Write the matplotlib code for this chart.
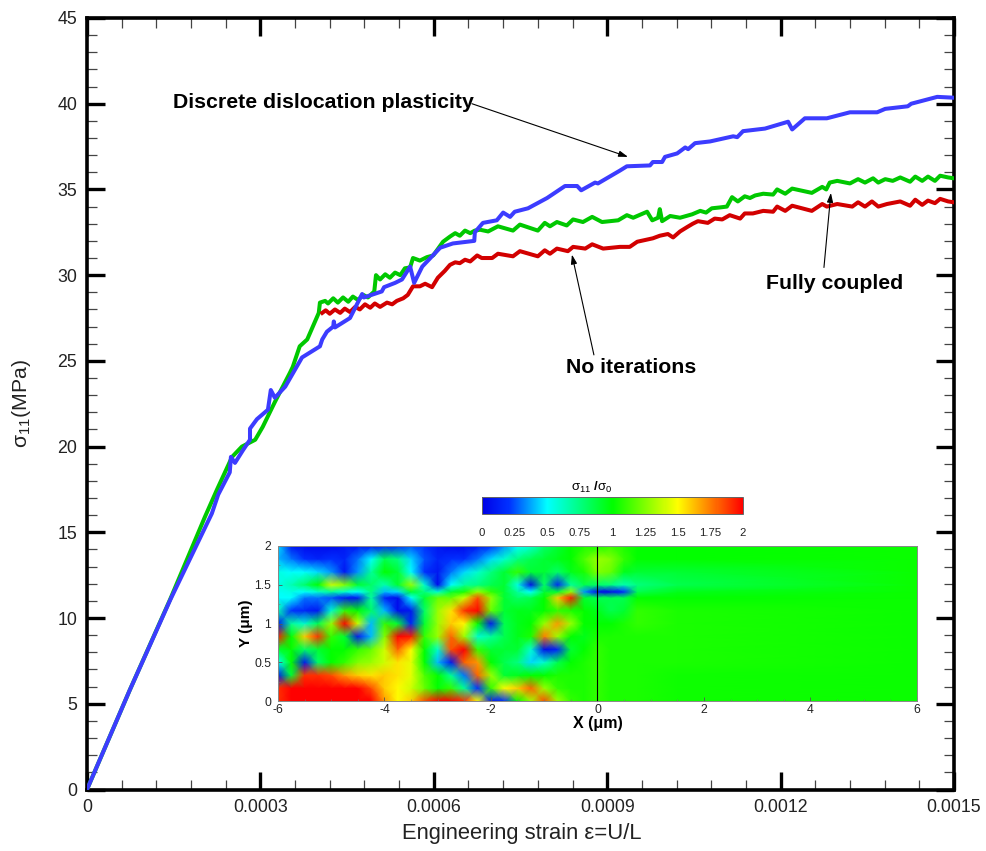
import numpy as np
import matplotlib
matplotlib.use('Agg')
import matplotlib.pyplot as plt
from matplotlib.colors import LinearSegmentedColormap
from matplotlib.cm import ScalarMappable
from matplotlib.colors import Normalize
from matplotlib.ticker import MultipleLocator

plt.rcParams['font.family'] = ['Liberation Sans', 'DejaVu Sans']
plt.rcParams['mathtext.fontset'] = 'custom'
plt.rcParams['mathtext.rm'] = 'Liberation Sans'
plt.rcParams['mathtext.it'] = 'Liberation Sans'
plt.rcParams['mathtext.bf'] = 'Liberation Sans:bold'

blue_x = [0,.74,1.44,2.16,2.27,2.47,2.49,2.56,2.70,2.82,2.82,2.94,3.13,3.18,3.25,3.43,3.72,4.03,4.07,4.15,4.26,4.27,4.29,4.55,4.76,4.79,5.10,5.14,5.33,5.45,5.59,5.66,5.80,6.11,6.33,6.70,6.71,6.85,7.09,7.20,7.32,7.40,7.63,7.96,8.27,8.48,8.55,8.79,8.84,9.22,9.34,9.74,9.79,9.95,10.0,10.21,10.35,10.4,10.52,10.78,11.18,11.25,11.35,11.73,12.13,12.2,12.42,12.8,13.2,13.67,13.81,14.2,14.26,14.71,15]
blue_y = [0,5.8,11.06,16.1,17.2,18.5,19.4,19.05,19.8,20.4,21.05,21.6,22.15,23.3,22.85,23.5,25.2,25.85,26.25,26.7,27.0,27.3,26.95,27.5,28.9,28.7,29.05,29.3,29.55,29.75,30.5,29.55,30.5,31.6,31.85,32.0,32.5,33.05,33.2,33.65,33.4,33.7,33.9,34.5,35.2,35.2,34.95,35.4,35.35,36.1,36.35,36.4,36.6,36.6,36.9,37.1,37.45,37.35,37.7,37.8,38.1,38.05,38.4,38.55,38.95,38.5,39.15,39.15,39.5,39.5,39.7,39.85,40.0,40.4,40.35]

green_x = [0,.74,1.44,2.04,2.25,2.51,2.68,2.91,3.04,3.25,3.51,3.56,3.68,3.81,4.01,4.03,4.12,4.17,4.26,4.34,4.43,4.52,4.60,4.69,4.78,4.86,4.97,5.0,5.07,5.16,5.24,5.33,5.42,5.50,5.59,5.64,5.76,5.88,5.99,6.16,6.28,6.37,6.45,6.54,6.63,6.71,6.8,6.94,7.11,7.37,7.49,7.8,7.92,8.01,8.13,8.3,8.41,8.58,8.74,8.91,9.19,9.34,9.45,9.69,9.78,9.88,9.91,9.95,10.09,10.26,10.47,10.61,10.71,10.81,10.95,11.07,11.16,11.26,11.38,11.47,11.56,11.7,11.87,11.94,12.08,12.2,12.54,12.72,12.79,12.85,12.98,13.2,13.34,13.46,13.6,13.69,13.81,13.94,14.07,14.24,14.33,14.45,14.55,14.67,14.76,14.9,15]
green_y = [0,5.8,11.1,15.9,17.5,19.4,20.0,20.4,21.15,22.6,24.3,24.65,25.85,26.25,27.8,28.4,28.5,28.35,28.65,28.4,28.7,28.45,28.75,28.55,28.85,28.7,29.05,30.0,29.75,30.05,29.85,30.15,30.0,30.4,30.45,31.0,30.85,31.05,31.15,31.95,32.25,32.45,32.3,32.6,32.45,32.6,32.65,32.55,32.85,32.6,32.95,32.6,33.05,32.85,33.1,32.9,33.25,33.1,33.4,33.1,33.2,33.5,33.35,33.7,33.2,33.35,33.85,33.15,33.45,33.35,33.55,33.75,33.65,33.9,33.95,34.0,34.55,34.3,34.6,34.5,34.65,34.75,34.7,35.0,34.75,35.05,34.8,35.15,35.0,35.4,35.5,35.35,35.6,35.4,35.65,35.4,35.6,35.5,35.7,35.45,35.75,35.5,35.75,35.5,35.8,35.7,35.65]

red_x = [4.07,4.13,4.2,4.29,4.38,4.46,4.55,4.64,4.72,4.81,4.9,4.98,5.07,5.19,5.28,5.36,5.47,5.55,5.64,5.76,5.85,5.97,6.07,6.19,6.28,6.37,6.45,6.54,6.63,6.75,6.83,7.01,7.11,7.37,7.49,7.8,7.92,8.01,8.13,8.32,8.41,8.62,8.74,8.93,9.22,9.39,9.52,9.79,9.91,10.05,10.14,10.26,10.38,10.48,10.57,10.74,10.86,10.99,11.12,11.3,11.38,11.52,11.7,11.87,11.94,12.08,12.2,12.54,12.72,12.8,12.98,13.24,13.34,13.46,13.58,13.69,13.84,14.07,14.24,14.33,14.45,14.55,14.67,14.76,14.9,15]
red_y = [27.8,27.95,27.75,28.0,27.8,28.05,27.85,28.15,28.0,28.3,28.1,28.35,28.15,28.4,28.3,28.5,28.65,28.85,29.35,29.35,29.5,29.3,29.85,30.25,30.6,30.75,30.7,30.9,30.8,31.15,31.0,31.0,31.25,31.1,31.4,31.1,31.45,31.25,31.55,31.4,31.65,31.55,31.8,31.55,31.65,31.65,31.95,32.15,32.3,32.4,32.2,32.55,32.8,33.0,33.15,33.05,33.3,33.25,33.5,33.3,33.6,33.6,33.75,33.7,34.0,33.75,34.05,33.75,34.15,34.0,34.15,34.0,34.25,34.0,34.3,34.0,34.15,34.3,34.05,34.4,34.1,34.35,34.2,34.45,34.3,34.25]

x_ticks = [0, 0.0003, 0.0006, 0.0009, 0.0012, 0.0015]
x_tick_labels = ['0', '0.0003', '0.0006', '0.0009', '0.0012', '0.0015']

field_x = [-6,-5.75,-5.5,-5.25,-5,-4.75,-4.5,-4.25,-4,-3.75,-3.5,-3.25,-3,-2.75,-2.5,-2.25,-2,-1.75,-1.5,-1.25,-1,-.75,-.5,-.25,0,.25,.5,.75,1.5,6]
field_y = [0,1/6,2/6,.5,4/6,5/6,1,7/6,8/6,1.41,1.5,10/6,11/6,2]
field = [
 [1.9,2,2,2,2,2,2,2,1.7,1.5,1.6,1.85,2,2,1.9,1.5,.1,.2,1,1.3,1.85,1.3,1.1,1.05,1.1,1.05,1.05,1.05,1.03,1.02],
 [1.9,2,2,2,2,2,2,1.85,1.6,1.5,1.4,1.2,1,1.1,.7,.2,1.1,1.5,1.6,1.8,1.3,1.1,1.05,1.05,1.1,1.05,1.05,1.05,1.03,1.02],
 [.1,.9,1.9,1.9,1.85,1.7,1.6,1.55,1.6,1.55,1.45,1.15,1,.7,.3,1.8,1.3,.9,.95,1,1,1.05,1.05,1.05,1.1,1.05,1.05,1.05,1.03,1.02],
 [.5,1,.1,.8,1,1.1,1.25,1.3,1.4,1.55,1.45,1,.4,.1,1.8,1.7,1,.85,.75,.45,.6,.85,1,1.05,1.1,1.05,1.05,1.05,1.05,1.02],
 [.9,1,.8,.9,1,1,1.1,1.2,1.4,1.8,1.5,1,.6,1.85,2,1.1,.9,.9,.9,.6,.05,.15,.9,1,1.1,1.05,1.05,1.05,1.05,1.02],
 [1.95,1,1.6,1.9,1.1,.9,.1,.4,1.25,2,1.95,1.1,1.3,1.8,1.3,.6,.7,.85,.95,1.05,1.75,1.3,1,.95,1.05,1.05,1.05,1.05,1.05,1.02],
 [.1,.7,.6,.85,1.3,2,1.4,.4,1.1,.9,.15,.9,1.3,1.6,1.5,1,.1,.85,.95,1,1.3,1.7,1.3,1,1,1,1.05,1.1,1.05,1.02],
 [.65,.2,.15,.1,.6,1.1,1,.8,.4,.05,.1,.8,1.3,1.55,1.9,2,1.2,.9,.95,.95,1,1.1,1.05,1,.95,.85,.9,1.1,1.05,1.02],
 [.5,.5,.3,.3,.25,.1,.1,.7,.15,.05,.5,.9,1.2,1.2,1.4,1.85,1.3,.9,.8,.85,1,1.6,1.95,.9,.85,.85,.85,1,1,1.02],
 [.52,.55,.5,.6,.7,.6,.5,.75,.4,.45,.9,.75,.6,.9,1.05,1.3,1.1,.9,.7,.5,.9,.9,1.3,.35,.05,.05,.2,.85,.95,1.02],
 [.55,.65,.8,1,1.4,1.25,.9,.8,.65,.9,1.3,.6,.05,.5,.7,.75,.85,.9,.55,.05,.8,.15,.7,.85,.8,.75,.65,.75,.85,1.02],
 [.55,.5,.5,.45,.35,.1,.35,.7,1,.9,.5,.2,.1,.3,.45,.6,.75,.9,1.1,.9,.9,.8,.95,1.05,1.25,1.2,.95,.9,.9,1.02],
 [.4,.3,.2,.15,.2,.15,.3,.5,.85,.75,.45,.25,.15,.2,.2,.3,.45,.6,.75,.85,.9,.95,1,1.15,1.3,1.25,1.1,1,1,1.02],
 [.45,.1,.05,.05,.05,.1,.1,.1,.15,.2,.25,.2,.1,.05,.05,.1,.2,.35,.5,.6,.8,.9,1,1.05,1.05,1.1,1.05,1,1,1.02],
]
cbar_ticks = [0, .25, .5, .75, 1, 1.25, 1.5, 1.75, 2]
cbar_tick_labels = ['0', '0.25', '0.5', '0.75', '1', '1.25', '1.5', '1.75', '2']

W, H = 987, 851
fig = plt.figure(figsize=(W/100, H/100), dpi=100)
ax = fig.add_axes([87/W, 1-789.5/H, 867/W, 771.5/H])
ax.plot(np.array(green_x)*1e-4, green_y, color='#00c800', lw=2.9, zorder=3, solid_joinstyle='round')
ax.plot(np.array(red_x)*1e-4, red_y, color='#d20000', lw=2.9, zorder=4, solid_joinstyle='round')
ax.plot(np.array(blue_x)*1e-4, blue_y, color='#3c3cff', lw=2.9, zorder=5, solid_joinstyle='round')
ax.set_xlim(0, 0.0015)
ax.set_ylim(0, 45)
ax.set_xticks(x_ticks)
ax.set_xticklabels(x_tick_labels)
ax.yaxis.set_major_locator(MultipleLocator(5))
ax.xaxis.set_minor_locator(MultipleLocator(0.00006))
ax.yaxis.set_minor_locator(MultipleLocator(1))
ax.tick_params(which='major', direction='in', length=13, width=2.4, top=True, right=True,
               labelsize=12.8, pad=7, colors='black', labelcolor='#222222')
ax.tick_params(which='minor', direction='in', length=7.5, width=0.9, top=True, right=True, color='#444444')
for s in ax.spines.values():
    s.set_linewidth(2.6)
ax.set_xlabel('Engineering strain \u03b5=U/L', fontsize=15.8, color='#222222')
ax.xaxis.set_label_coords(0.5017, -0.0435)
ax.set_ylabel(r'$\mathrm{\sigma_{11}}$(MPa)', fontsize=15.3, color='#222222')
ax.yaxis.set_label_coords(-0.0625, 0.5)

arrow = dict(arrowstyle='-|>,head_width=0.18,head_length=0.55', lw=0.8, color='black', shrinkA=0, shrinkB=0)
ax.annotate('', xy=(9.36e-4, 36.9), xytext=(6.66e-4, 40.0), arrowprops=arrow, zorder=6)
ax.annotate('', xy=(8.39e-4, 31.2), xytext=(8.77e-4, 25.35), arrowprops=arrow, zorder=6)
ax.annotate('', xy=(12.87e-4, 34.8), xytext=(12.75e-4, 30.45), arrowprops=arrow, zorder=6)
ax.text(4.09e-4, 40.1, 'Discrete dislocation plasticity', fontsize=15.3, fontweight='bold', ha='center', va='center')
ax.text(9.42e-4, 24.6, 'No iterations', fontsize=15.3, fontweight='bold', ha='center', va='center')
ax.text(12.93e-4, 29.5, 'Fully coupled', fontsize=15.3, fontweight='bold', ha='center', va='center')

cmap = LinearSegmentedColormap.from_list('rainbow4', [(0, '#0000e6'), (.1, '#0030ff'), (.25, '#00ffff'),
                                                      (.5, '#00ff00'), (.75, '#ffff00'), (1, '#ff0000')])
norm = Normalize(0, 2)

ins = fig.add_axes([278/W, 1-701/H, 639/W, 155/H])
ins.pcolormesh(field_x, field_y, np.array(field), shading='gouraud', cmap=cmap, norm=norm, rasterized=True)
ins.plot([0, 0], [0, 2], color='black', lw=0.8, clip_on=False)
ins.set_xlim(-6, 6)
ins.set_ylim(0, 2)
ins.set_xticks([-6, -4, -2, 0, 2, 4, 6])
ins.set_xticklabels(['-6', '-4', '-2', '0', '2', '4', '6'])
ins.set_yticks([0, .5, 1, 1.5, 2])
ins.set_yticklabels(['0', '0.5', '1', '1.5', '2'])
ins.xaxis.set_minor_locator(MultipleLocator(0.5))
ins.yaxis.set_minor_locator(MultipleLocator(0.25))
ins.tick_params(which='major', direction='in', length=3, width=0.6, labelsize=8.8, pad=2, color='#555555', labelcolor='#222222')
ins.tick_params(axis='y', which='major', pad=5)
ins.tick_params(which='minor', direction='in', length=1.5, width=0.4, color='#777777')
for s in ins.spines.values():
    s.set_linewidth(0.7)
    s.set_color('#888888')
ins.set_xlabel('X (\u03bcm)', fontsize=11.5, fontweight='bold', labelpad=0)
ins.set_ylabel('Y (\u03bcm)', fontsize=11, fontweight='bold', labelpad=1)

cax = fig.add_axes([482/W, 1-514/H, 261/W, 17/H])
cb = fig.colorbar(ScalarMappable(norm=norm, cmap=cmap), cax=cax, orientation='horizontal')
cb.set_ticks(cbar_ticks)
cb.set_ticklabels(cbar_tick_labels)
cax.tick_params(length=0, labelsize=8.2, pad=10, labelcolor='#222222')
cb.outline.set_linewidth(0.7)
cb.outline.set_edgecolor('#666666')
fig.text(592/W, 1-487/H, r'$\mathrm{\sigma_{11}}$ /$\mathrm{\sigma_{0}}$', fontsize=9.5, ha='center', va='center', fontweight='bold')

fig.savefig('out.png', dpi=100, facecolor='white')
